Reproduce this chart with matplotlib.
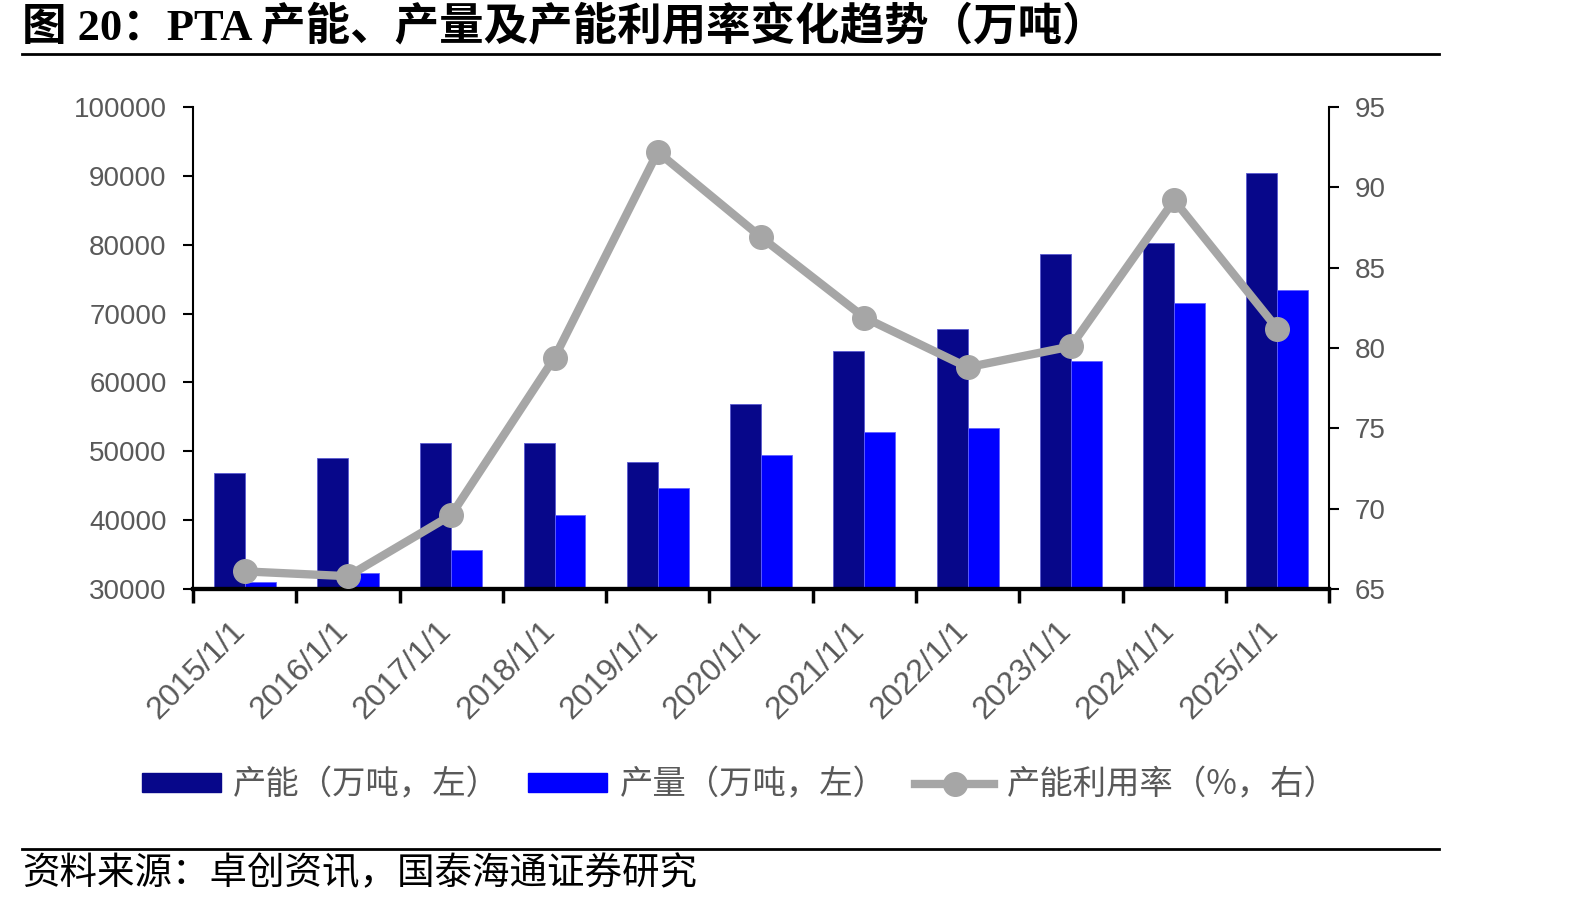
import matplotlib
matplotlib.use('Agg')
import matplotlib.pyplot as plt
from matplotlib.lines import Line2D
from matplotlib.transforms import offset_copy
import numpy as np

# data
years = ['2015/1/1', '2016/1/1', '2017/1/1', '2018/1/1', '2019/1/1', '2020/1/1',
         '2021/1/1', '2022/1/1', '2023/1/1', '2024/1/1', '2025/1/1']
capacity = [46900, 49000, 51200, 51200, 48500, 56800, 64500, 67700, 78700, 80200, 90400]
output = [31000, 32400, 35600, 40700, 44700, 49500, 52800, 53400, 63100, 71600, 73400]
util_rate = [66.1, 65.8, 69.6, 79.4, 92.2, 86.9, 81.9, 78.8, 80.1, 89.2, 81.2]

left_ticks = [30000, 40000, 50000, 60000, 70000, 80000, 90000, 100000]
right_ticks = [65, 70, 75, 80, 85, 90, 95]

title = '图 20：PTA 产能、产量及产能利用率变化趋势（万吨）'
source = '资料来源：卓创资讯，国泰海通证券研究'
labels = ['产能（万吨，左）', '产量（万吨，左）', '产能利用率（%，右）']

plt.rcParams['font.family'] = ['Liberation Sans', 'Noto Sans CJK SC']
grey = '#595959'
c_cap = '#07078A'
c_out = '#0000FF'
c_line = '#A6A6A6'

fig = plt.figure(figsize=(15.94, 9.10), dpi=100)
ax = fig.add_axes([0.1211, 0.3527, 0.8338 - 0.1211, 0.8824 - 0.3527])
ax2 = ax.twinx()

x = np.arange(len(years))
w = 0.3
ax.bar(x - w / 2, [c - 30000 for c in capacity], w, bottom=30000, color=c_cap,
       edgecolor='#5a5ad0', linewidth=0.6)
ax.bar(x + w / 2, [o - 30000 for o in output], w, bottom=30000, color=c_out,
       edgecolor='#6060ff', linewidth=0.6)
ax2.plot(x, util_rate, color=c_line, lw=6, marker='o', ms=17, zorder=5)

ax.set_xlim(-0.5, len(years) - 0.5)
ax.set_ylim(30000, 100000)
ax2.set_ylim(65, 95)
ax.set_yticks(left_ticks)
ax.set_yticklabels([str(t) for t in left_ticks])
ax2.set_yticks(right_ticks)

# category axis: ticks on boundaries, labels at centres
ax.set_xticks(np.arange(-0.5, len(years)))
ax.set_xticklabels([])
ax.tick_params(axis='x', length=10, width=2.5, direction='out')
lab_tr = offset_copy(ax.get_xaxis_transform(), fig=fig, x=-3, y=-27, units='points')
for i, yr in enumerate(years):
    ax.text(i, 0, yr, transform=lab_tr, rotation=45, rotation_mode='anchor',
            ha='right', va='center', fontsize=23, color=grey)

ax.tick_params(axis='y', length=7, width=1.5, labelsize=20, labelcolor=grey, pad=12)
ax2.tick_params(axis='y', length=7, width=1.5, labelsize=20, labelcolor=grey, pad=11.5)

for a in (ax, ax2):
    a.spines['top'].set_visible(False)
    a.spines['left'].set_linewidth(1.5)
    a.spines['right'].set_linewidth(1.5)
    a.spines['bottom'].set_linewidth(3)
ax.spines['right'].set_visible(False)
ax2.spines['left'].set_visible(False)

# legend
handles = [plt.Rectangle((0, 0), 1, 1, color=c_cap),
           plt.Rectangle((0, 0), 1, 1, color=c_out),
           Line2D([], [], color=c_line, lw=6, marker='o', ms=17)]
leg = fig.legend(handles, labels, loc='center', bbox_to_anchor=(0.464, 0.137), ncol=3,
                 frameon=False, handlelength=2.37, handleheight=0.5, handletextpad=0.37,
                 columnspacing=0.85, prop={'family': 'Noto Sans CJK SC', 'size': 24})
for t in leg.get_texts():
    t.set_color(grey)

# title, rules, source
fig.text(0.014, 0.970, title, fontsize=32, fontweight='bold', va='center', ha='left',
         family=['Liberation Serif', 'Noto Sans CJK SC'])
fig.add_artist(Line2D([0.014, 0.903], [0.941, 0.941], color='black', lw=2))
fig.add_artist(Line2D([0.014, 0.903], [0.067, 0.067], color='black', lw=2))
fig.text(0.014, 0.040, source, fontsize=27, va='center', ha='left',
         family=['Noto Sans CJK SC'])

fig.savefig('out.png', dpi=100)
